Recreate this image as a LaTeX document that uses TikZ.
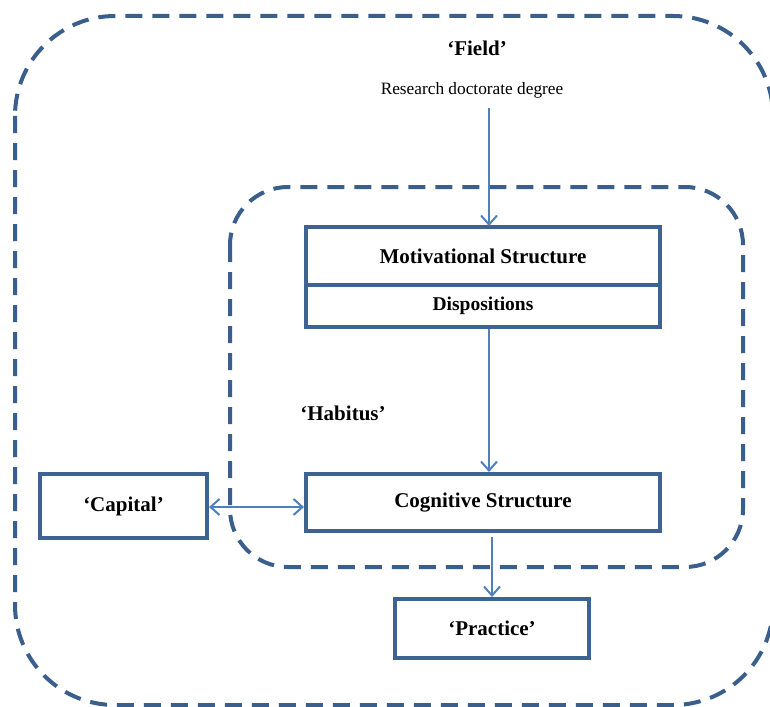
\documentclass[tikz,border=0pt]{standalone}
\usepackage{fontspec}
\setmainfont{Liberation Serif}
\usetikzlibrary{arrows.meta}
\definecolor{dashblue}{HTML}{3B5F8C}
\definecolor{boxblue}{HTML}{3E6393}
\definecolor{arrblue}{HTML}{4F80BC}
\tikzset{
  region/.style={draw=dashblue, line width=4pt, dash pattern=on 17pt off 10pt},
  boxnode/.style={draw=boxblue, line width=4pt, rectangle, inner sep=0pt,
     font=\bfseries\fontsize{21}{24}\selectfont},
  labelnode/.style={inner sep=0pt, font=\bfseries\fontsize{21}{24}\selectfont},
  arr/.style={draw=arrblue, line width=2pt, -{Straight Barb[length=9pt,width=16pt,line width=2pt]}},
  dblarr/.style={draw=arrblue, line width=2pt, {Straight Barb[length=9pt,width=16pt,line width=2pt]}-{Straight Barb[length=9pt,width=16pt,line width=2pt]}}
}
\begin{document}
\begin{tikzpicture}[x=1pt,y=-1pt]
\useasboundingbox (0,0) rectangle (770,706);
\begin{scope}
\clip (0,0) rectangle (770,706);
\draw[region, rounded corners=100pt] (15,16) rectangle (773,705);
\end{scope}
\draw[region, rounded corners=58pt] (230,187) rectangle (743,567);

\node[labelnode] (field) at (477,48) {‘Field’};
\node[inner sep=2pt, font=\fontsize{17.3}{20}\selectfont] (res) at (472,90) {Research doctorate degree};
\node[labelnode] (hab) at (343,413) {‘Habitus’};

\node[boxnode, minimum width=354pt, minimum height=58pt] (mot) at (483,256) {Motivational Structure};
\node[boxnode, minimum width=354pt, minimum height=42pt, font=\bfseries\fontsize{19.5}{22}\selectfont] (disp) at (483,306) {Dispositions};
\node[boxnode, minimum width=354pt, minimum height=57pt] (cog) at (483,502.5) {Cognitive Structure};
\node[boxnode, minimum width=167pt, minimum height=64pt] (cap) at (123.5,506) {‘Capital’};
\node[boxnode, minimum width=194pt, minimum height=59pt] (prac) at (492,628.5) {‘Practice’};

\coordinate (ax) at (489,0);
\draw[arr, shorten >=-1pt] ([yshift=-8pt]res.south -| ax) -- (mot.north -| ax);
\draw[arr] (disp.south -| ax) -- (cog.north -| ax);
\draw[arr, shorten <=4pt] (cog.south -| prac.north) -- (prac.north);
\draw[dblarr] (cap.east |- 0,507) -- (cog.west |- 0,507);
\end{tikzpicture}
\end{document}
